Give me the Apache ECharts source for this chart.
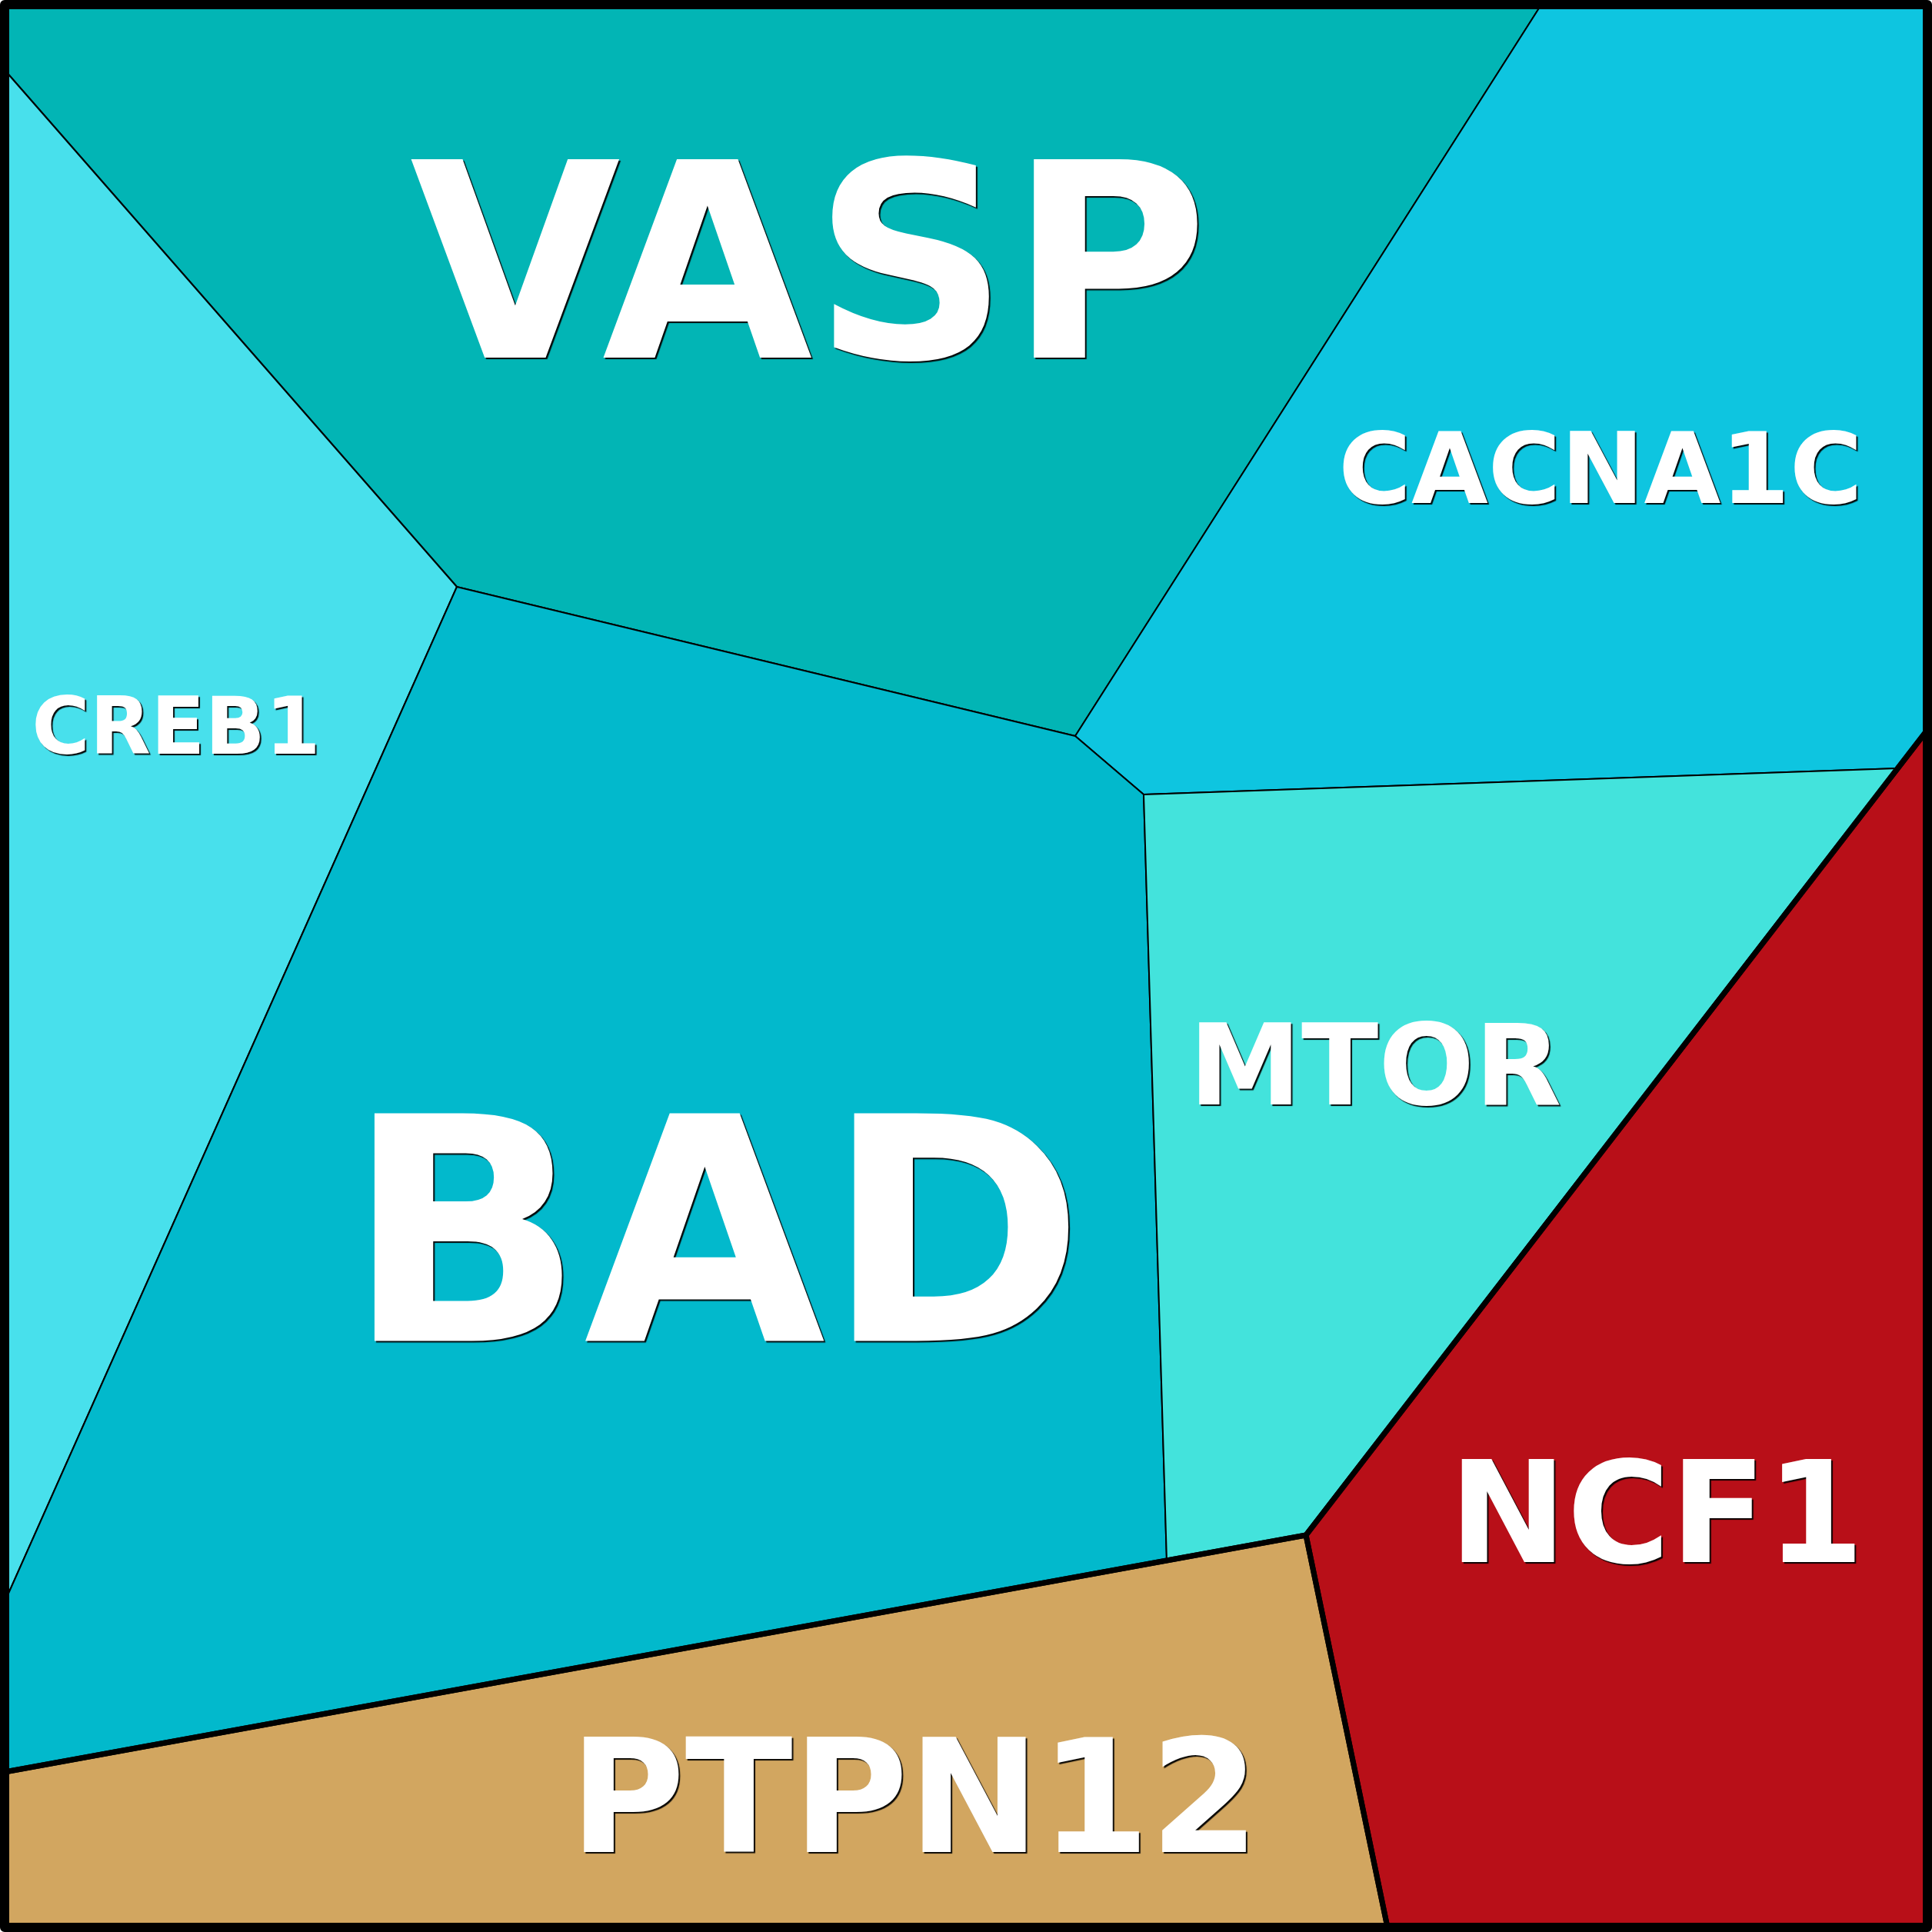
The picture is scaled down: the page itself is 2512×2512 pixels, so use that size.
<!DOCTYPE html>
<html>
<head>
<meta charset="utf-8">
<script src="https://cdn.jsdelivr.net/npm/echarts@6/dist/echarts.min.js"></script>
<style>
html,body{margin:0;padding:0;background:#ffffff;}
#chart{width:2512px;height:2512px;}
</style>
</head>
<body>
<div id="chart"></div>
<script>
// ---- data (plot units: 0..2512 on both axes, y downward) ----
const cellNames  = ['VASP', 'CACNA1C', 'CREB1', 'BAD', 'MTOR', 'NCF1', 'PTPN12'];
const cellGroups = ['A', 'A', 'A', 'A', 'A', 'B', 'C'];
const cellColors = ['#02b5b5', '#0ec5e0', '#48e0ec', '#02b9cc', '#43e3dc', '#b80f18', '#d2a660'];
// Voronoi cell boundaries
const cellVASP    = [[6,6],[2004,6],[1398,957],[594,763],[6,91]];
const cellCACNA1C = [[2004,6],[2506,6],[2506,949],[2467,999],[1487,1033],[1398,957]];
const cellCREB1   = [[6,91],[594,763],[6,2083]];
const cellBAD     = [[594,763],[1398,957],[1487,1033],[1517,2029],[6,2304],[6,2083]];
const cellMTOR    = [[1487,1033],[2467,999],[1698,1996],[1517,2029]];
const cellNCF1    = [[2506,949],[2506,2506],[1804,2506],[1698,1996]];
const cellPTPN12  = [[6,2304],[1517,2029],[1698,1996],[1804,2506],[6,2506]];
// top-level group boundaries
const groupA = [[6,6],[2506,6],[2506,949],[1698,1996],[6,2304]];
const groupB = cellNCF1;
const groupC = cellPTPN12;
const frame  = [[6,6],[2506,6],[2506,2506],[6,2506]];
// label sites
const labelSites = [[1052,336],[2081,606],[229,942],[930,1595],[1788,1383],[2154,1964],[1189,2333]];

// ---- styles ----
const labelFont = [354, 129, 103, 406, 147, 183, 205];

const cells = [cellVASP, cellCACNA1C, cellCREB1, cellBAD, cellMTOR, cellNCF1, cellPTPN12];

function polySeries(name, polys, fills, lineWidth, z) {
  return {
    type: 'custom',
    name: name,
    coordinateSystem: 'cartesian2d',
    z: z,
    silent: true,
    clip: false,
    data: polys.map((p, i) => ({ value: [i] })),
    renderItem: function (params, api) {
      const p = polys[params.dataIndex];
      const pts = p.map(v => api.coord(v));
      return {
        type: 'polygon',
        shape: { points: pts },
        style: {
          fill: fills ? fills[params.dataIndex] : 'none',
          stroke: '#000',
          lineWidth: lineWidth,
          lineJoin: 'round'
        }
      };
    }
  };
}

const chart = echarts.init(document.getElementById('chart'), null, { renderer: 'canvas' });
chart.setOption({
  backgroundColor: '#ffffff',
  animation: false,
  grid: { left: 0, right: 0, top: 0, bottom: 0 },
  xAxis: { type: 'value', min: 0, max: 2512, show: false },
  yAxis: { type: 'value', min: 0, max: 2512, inverse: true, show: false },
  series: [
    polySeries('cells', cells, cellColors, 2, 1),
    polySeries('groups', [groupA, groupB, groupC], null, 7, 2),
    polySeries('frame', [frame], null, 12, 3),
    {
      type: 'scatter',
      z: 4,
      symbolSize: 0,
      silent: true,
      itemStyle: { opacity: 1 },
      data: cellNames.map((n, i) => ({
        value: labelSites[i],
        name: n,
        label: { fontSize: labelFont[i], offset: [0, Math.round(labelFont[i] * 0.105)] }
      })),
      label: {
        show: true,
        position: 'inside',
        formatter: p => p.name,
        color: '#ffffff',
        opacity: 1,
        fontFamily: 'DejaVu Sans',
        fontWeight: 'bold',
        textShadowColor: 'rgba(0,0,0,0.95)',
        textShadowBlur: 1,
        textShadowOffsetX: 2,
        textShadowOffsetY: 2
      }
    }
  ]
});
</script>
</body>
</html>
